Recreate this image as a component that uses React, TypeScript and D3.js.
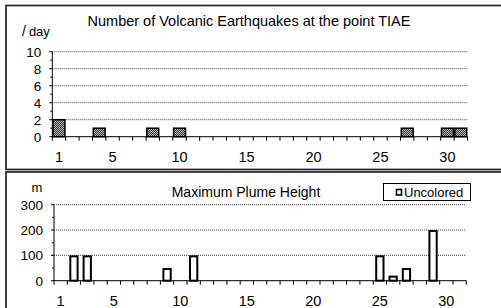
import React from "react";
import * as d3 from "d3";

const days = [1, 2, 3, 4, 5, 6, 7, 8, 9, 10, 11, 12, 13, 14, 15, 16, 17, 18, 19, 20, 21, 22, 23, 24, 25, 26, 27, 28, 29, 30, 31];
const quakeCounts = [2, 0, 0, 1, 0, 0, 0, 1, 0, 1, 0, 0, 0, 0, 0, 0, 0, 0, 0, 0, 0, 0, 0, 0, 0, 0, 1, 0, 0, 1, 1];
const plumeHeights = [0, 100, 100, 0, 0, 0, 0, 0, 50, 0, 100, 0, 0, 0, 0, 0, 0, 0, 0, 0, 0, 0, 0, 0, 100, 20, 50, 0, 200, 0, 0];
const xTickLabels = [1, 5, 10, 15, 20, 25, 30];
const quakeYTicks = [0, 2, 4, 6, 8, 10];
const quakeYMinor = [1, 3, 5, 7, 9];
const plumeYTicks = [0, 100, 200, 300];
const plumeYMinor = [50, 150, 250];
const quakeTitle = "Number of Volcanic Earthquakes at the point TIAE";
const plumeTitle = "Maximum Plume Height";
const quakeUnitSlash = "/";
const quakeUnitWord = "day";
const plumeUnit = "m";
const legendLabel = "Uncolored";

const FONT = "'Liberation Sans', Arial, 'Noto Sans CJK JP', sans-serif";

type PanelProps = {
  values: number[];
  yTicks: number[];
  yMinor: number[];
  yMax: number;
  xRange: [number, number];
  yRange: [number, number];
  title: string;
  titleX: number;
  titleY: number;
  titleSize: number;
  kind: "pattern" | "outline";
};

function Panel(p: PanelProps) {
  const x = d3.scaleBand<number>().domain(days).range(p.xRange).padding(0);
  const y = d3.scaleLinear().domain([0, p.yMax]).range(p.yRange);
  const x0 = p.xRange[0];
  const x1 = p.xRange[1];
  const step = x.step();
  const boundaries = d3.range(days.length + 1).map((i) => x0 + i * step);
  const base = y(0);
  return (
    <g>
      {p.yTicks.filter((t) => t !== 0).map((t) => (
        <line key={"g" + t} x1={x0} x2={x1} y1={y(t)} y2={y(t)} stroke="#444" strokeWidth={1} strokeDasharray="1 1" />
      ))}
      {p.values.map((v, i) => {
        if (!v) return null;
        const d = days[i];
        if (p.kind === "pattern") {
          return (
            <rect key={"b" + d} x={x(d)! + 0.75} y={y(v)} width={step - 1.5} height={base - y(v)} fill="url(#chk)" stroke="#000" strokeWidth={1.5} />
          );
        }
        const cx = x(d)! + step / 2;
        const w = 7.3;
        return <rect key={"b" + d} x={cx - w / 2} y={y(v) + 1} width={w} height={base - y(v) - 1} fill="#fff" stroke="#000" strokeWidth={2} />;
      })}
      <line x1={x0} x2={x1} y1={base} y2={base} stroke="#000" strokeWidth={1} />
      <line x1={x0} x2={x0} y1={y(p.yMax)} y2={base} stroke="#000" strokeWidth={1} />
      {boundaries.map((bx, i) => (
        <line key={"xt" + i} x1={bx} x2={bx} y1={base} y2={base + 4} stroke="#000" strokeWidth={1} />
      ))}
      {p.yTicks.map((t) => (
        <line key={"yt" + t} x1={x0 - 3} x2={x0} y1={y(t)} y2={y(t)} stroke="#000" strokeWidth={1} />
      ))}
      {p.yMinor.map((t) => (
        <line key={"ym" + t} x1={x0 - 2} x2={x0} y1={y(t)} y2={y(t)} stroke="#000" strokeWidth={1} />
      ))}
      {p.yTicks.map((t) => (
        <text key={"yl" + t} x={x0 - 11} y={y(t)} dy="0.36em" textAnchor="end" fontSize={13.5} fontFamily={FONT} fill="#000">
          {t}
        </text>
      ))}
      {xTickLabels.map((t) => (
        <text key={"xl" + t} x={x(t)! + step / 2} y={base + 25} textAnchor="middle" fontSize={14.5} fontFamily={FONT} fill="#000">
          {t}
        </text>
      ))}
      <text x={p.titleX} y={p.titleY} textAnchor="middle" fontSize={p.titleSize} fontFamily={FONT} fill="#000">
        {p.title}
      </text>
    </g>
  );
}

export default function App() {
  return (
    <svg width={501} height={308} style={{ position: "absolute", left: 0, top: 0, background: "#fff" }}>
      <defs>
        <pattern id="chk" width={2} height={2} patternUnits="userSpaceOnUse">
          <rect width={2} height={2} fill="#333" />
          <rect x={0} y={0} width={1} height={1} fill="#bdbdbd" />
          <rect x={1} y={1} width={1} height={1} fill="#bdbdbd" />
        </pattern>
      </defs>
      <rect x={0} y={0} width={501} height={308} fill="#fff" />
      <rect x={6} y={5.5} width={520} height={164} fill="none" stroke="#222" strokeWidth={1.7} />
      <rect x={6} y={172} width={520} height={160} fill="none" stroke="#222" strokeWidth={1.7} />
      <Panel
        values={quakeCounts}
        yTicks={quakeYTicks}
        yMinor={quakeYMinor}
        yMax={10}
        xRange={[52.3, 467.5]}
        yRange={[136.7, 51.7]}
        title={quakeTitle}
        titleX={249}
        titleY={26}
        titleSize={14.5}
        kind="pattern"
      />
      <text x={22} y={36} fontSize={13} fontFamily={FONT} fill="#000">
        <tspan fontSize={14}>{quakeUnitSlash}</tspan>
        <tspan dx={3}>{quakeUnitWord}</tspan>
      </text>
      <Panel
        values={plumeHeights}
        yTicks={plumeYTicks}
        yMinor={plumeYMinor}
        yMax={300}
        xRange={[54, 466.3]}
        yRange={[280.7, 204.7]}
        title={plumeTitle}
        titleX={246}
        titleY={197}
        titleSize={14}
        kind="outline"
      />
      <text x={37} y={191.5} textAnchor="middle" fontSize={13} fontFamily={FONT} fill="#000">
        {plumeUnit}
      </text>
      <g>
        <rect x={383.5} y={183.5} width={87} height={17} fill="#fff" stroke="#000" strokeWidth={1} />
        <rect x={396.5} y={189.5} width={5} height={5.5} fill="#fff" stroke="#000" strokeWidth={1.6} />
        <text x={404} y={196.8} fontSize={13} fontFamily={FONT} fill="#000">
          {legendLabel}
        </text>
      </g>
    </svg>
  );
}
